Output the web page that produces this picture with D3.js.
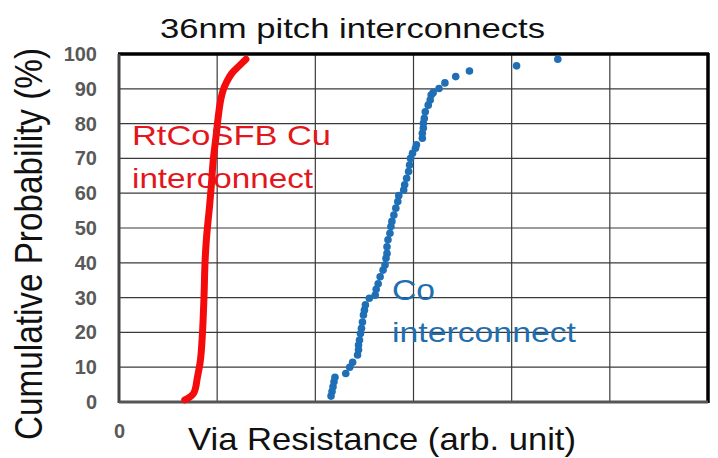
<!DOCTYPE html>
<html>
<head>
<meta charset="utf-8">
<script src="https://cdn.jsdelivr.net/npm/d3@7"></script>
<style>
	body { margin: 0; background: #fff; }
	text { font-family: "Liberation Sans", Arial, sans-serif; }
</style>
</head>
<body>
<div id="chart"></div>
<script>
/* Via resistance cumulative plot, 36nm pitch */

// RtCoSFB Cu curve (resistance in grid units, probability in %)
var cuRes = [0.67, 0.76, 0.80, 0.83, 0.85, 0.866, 0.876, 0.890, 0.903, 0.922, 0.942, 0.960, 0.988, 1.011, 1.036, 1.062, 1.097, 1.148, 1.232, 1.293];
var cuProb = [0.6, 2.5, 7.3, 12.1, 19.7, 30.3, 39.9, 46.6, 50.8, 56.1, 62.8, 69.5, 76.2, 82.0, 86.8, 89.7, 92.0, 94.4, 96.8, 98.5];

// Co dots
var coRes = [2.16, 2.17, 2.18, 2.19, 2.20, 2.31, 2.35, 2.38, 2.43, 2.44, 2.44, 2.45, 2.46, 2.47, 2.48, 2.49, 2.50, 2.51, 2.55, 2.61,
	2.62, 2.64, 2.66, 2.69, 2.71, 2.72, 2.73, 2.73, 2.74, 2.76, 2.77, 2.78, 2.80, 2.82, 2.84, 2.85, 2.90, 2.91, 2.93, 2.95,
	2.96, 2.97, 2.99, 3.02, 3.03, 3.09, 3.09, 3.10, 3.10, 3.11, 3.12, 3.15, 3.17, 3.18, 3.20, 3.26, 3.32, 3.43, 3.57, 4.05, 4.47];
var coProb = [1.7, 3.0, 4.4, 5.8, 7.1, 8.2, 10.0, 11.4, 13.5, 15.0, 16.4, 17.8, 19.7, 21.2, 23.0, 25.0, 26.4, 27.9, 29.8, 30.7,
	32.4, 34.0, 36.0, 37.9, 39.4, 41.3, 42.7, 44.6, 46.6, 48.5, 50.4, 51.9, 53.7, 55.7, 57.6, 59.3, 60.9, 62.4, 64.3, 66.2,
	68.1, 70.0, 71.5, 72.9, 73.9, 75.8, 77.2, 78.7, 80.1, 81.5, 83.4, 85.3, 86.8, 88.2, 88.9, 90.1, 91.7, 93.5, 95.1, 96.6, 98.5];

var yTicks = [0, 10, 20, 30, 40, 50, 60, 70, 80, 90, 100];
var xGrid = [0, 1, 2, 3, 4, 5, 6];
var xLabels = [0];

var title = "36nm pitch interconnects",
	xTitle = "Via Resistance (arb. unit)",
	yTitle = "Cumulative Probability (%)";

var W = 718, H = 458;
var margin = { top: 54, right: 10, bottom: 56, left: 119 };
var w = W - margin.left - margin.right,
	h = H - margin.top - margin.bottom;

var svg = d3.select("#chart").append("svg")
	.attr("width", W)
	.attr("height", H);

var g = svg.append("g").attr("transform", "translate(" + margin.left + "," + margin.top + ")");

var x = d3.scaleLinear().domain([0, 6]).range([0, w]);
var y = d3.scaleLinear().domain([0, 100]).range([h, 0]);

/* grid */
g.append("g").selectAll("line.h")
	.data(yTicks)
	.enter().append("line")
	.attr("x1", 0).attr("x2", w)
	.attr("y1", function(d) { return y(d); })
	.attr("y2", function(d) { return y(d); })
	.attr("stroke", "#3a3a3a").attr("stroke-width", 1.2);

g.append("g").selectAll("line.v")
	.data(xGrid)
	.enter().append("line")
	.attr("y1", 0).attr("y2", h)
	.attr("x1", function(d) { return x(d); })
	.attr("x2", function(d) { return x(d); })
	.attr("stroke", "#3a3a3a").attr("stroke-width", 1.2);

/* frame */
g.append("line").attr("x1", -1).attr("x2", w + 1).attr("y1", 0).attr("y2", 0)
	.attr("stroke", "#000").attr("stroke-width", 3.5);
g.append("line").attr("x1", w).attr("x2", w).attr("y1", -1).attr("y2", h + 1)
	.attr("stroke", "#000").attr("stroke-width", 3.5);
g.append("line").attr("x1", 0).attr("x2", 0).attr("y1", 0).attr("y2", h + 1)
	.attr("stroke", "#444").attr("stroke-width", 3);
g.append("line").attr("x1", 0).attr("x2", w).attr("y1", h).attr("y2", h)
	.attr("stroke", "#555").attr("stroke-width", 3);

/* y axis labels */
var yAxis = d3.axisLeft(y).tickValues(yTicks).tickSize(0).tickPadding(22);
var ya = g.append("g").call(yAxis);
ya.select(".domain").remove();
ya.selectAll("text")
	.style("font-family", "'Liberation Sans', Arial, sans-serif")
	.style("font-size", "20px")
	.style("font-weight", "bold")
	.attr("fill", "#595959");

/* x axis: only the origin is labelled */
var xAxis = d3.axisBottom(x).tickValues(xLabels).tickFormat(d3.format("d")).tickSize(0).tickPadding(22);
var xa = g.append("g").attr("transform", "translate(0," + h + ")").call(xAxis);
xa.select(".domain").remove();
xa.selectAll("text")
	.style("font-family", "'Liberation Sans', Arial, sans-serif")
	.style("font-size", "20px")
	.style("font-weight", "bold")
	.attr("fill", "#595959");

/* Cu curve */
var cuData = cuRes.map(function(d, i) { return [d, cuProb[i]]; });
var line = d3.line()
	.x(function(d) { return x(d[0]); })
	.y(function(d) { return y(d[1]); })
	.curve(d3.curveCatmullRom);

g.append("path")
	.datum(cuData)
	.attr("d", line)
	.attr("fill", "none")
	.attr("stroke", "#f40c0c")
	.attr("stroke-width", 7)
	.attr("stroke-linecap", "round")
	.attr("stroke-linejoin", "round");

/* Co dots */
var coData = coRes.map(function(d, i) { return [d, coProb[i]]; });
g.append("g").selectAll("circle")
	.data(coData)
	.enter().append("circle")
	.attr("cx", function(d) { return x(d[0]); })
	.attr("cy", function(d) { return y(d[1]); })
	.attr("r", 3.8)
	.attr("fill", "#1f6fb6");

/* series labels */
svg.append("text").attr("x", 132).attr("y", 145)
	.attr("font-size", 28).attr("fill", "#e3161c")
	.attr("textLength", 199).attr("lengthAdjust", "spacingAndGlyphs")
	.text("RtCoSFB Cu");
svg.append("text").attr("x", 132).attr("y", 188)
	.attr("font-size", 28).attr("fill", "#e3161c")
	.attr("textLength", 181).attr("lengthAdjust", "spacingAndGlyphs")
	.text("interconnect");
svg.append("text").attr("x", 392).attr("y", 300)
	.attr("font-size", 29).attr("fill", "#1f6fb0")
	.attr("textLength", 43).attr("lengthAdjust", "spacingAndGlyphs")
	.text("Co");
svg.append("text").attr("x", 392).attr("y", 342)
	.attr("font-size", 28).attr("fill", "#1f6fb0")
	.attr("textLength", 184).attr("lengthAdjust", "spacingAndGlyphs")
	.text("interconnect");

/* titles */
svg.append("text").attr("x", 160).attr("y", 38)
	.attr("font-size", 28).attr("fill", "#111")
	.attr("textLength", 385).attr("lengthAdjust", "spacingAndGlyphs")
	.text(title);

svg.append("text").attr("x", 188).attr("y", 450)
	.attr("font-size", 32).attr("fill", "#111")
	.attr("textLength", 388).attr("lengthAdjust", "spacingAndGlyphs")
	.text(xTitle);

svg.append("text")
	.attr("transform", "translate(42,244) rotate(-90) scale(1,1.22)")
	.attr("text-anchor", "middle")
	.attr("font-size", 32).attr("fill", "#111")
	.attr("textLength", 392).attr("lengthAdjust", "spacingAndGlyphs")
	.text(yTitle);
</script>
</body>
</html>
